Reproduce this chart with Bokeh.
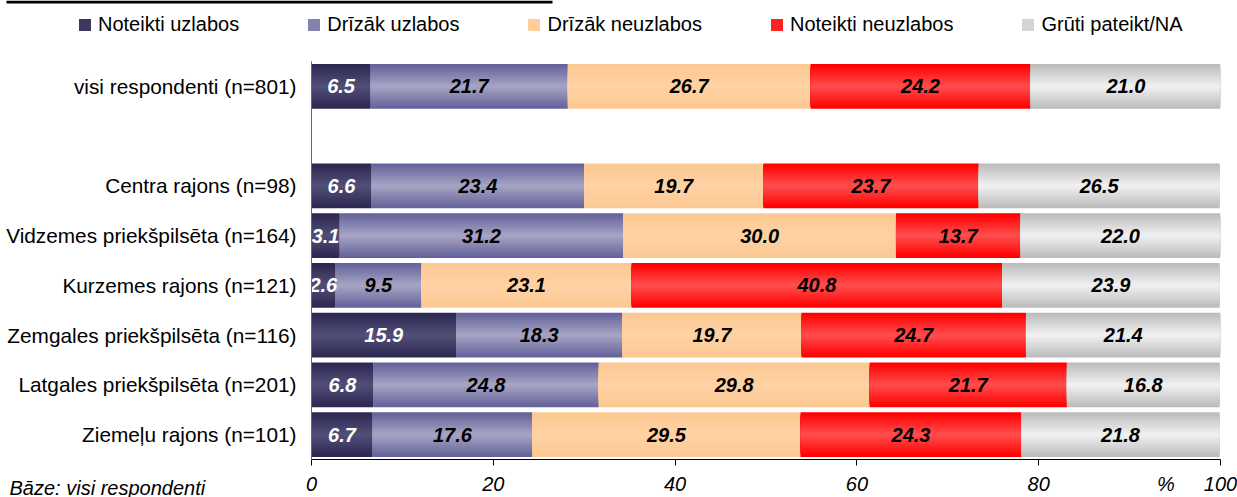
import numpy as np
from bokeh.plotting import figure
from bokeh.models import (FactorRange, Range1d, FixedTicker, Legend, LegendItem,
                          Label, BoxAnnotation, ColumnDataSource, GridBox, Column)
from bokeh.core.properties import value
from bokeh.embed import file_html
from bokeh.resources import INLINE

# ---------------- data ----------------
categories = [
    "visi respondenti (n=801)",
    "Centra rajons (n=98)",
    "Vidzemes priekšpilsēta (n=164)",
    "Kurzemes rajons (n=121)",
    "Zemgales priekšpilsēta (n=116)",
    "Latgales priekšpilsēta (n=201)",
    "Ziemeļu rajons (n=101)",
]
series_names = ["Noteikti uzlabos", "Drīzāk uzlabos", "Drīzāk neuzlabos",
                "Noteikti neuzlabos", "Grūti pateikt/NA"]
noteikti_uzlabos = [6.5, 6.6, 3.1, 2.6, 15.9, 6.8, 6.7]
drizak_uzlabos = [21.7, 23.4, 31.2, 9.5, 18.3, 24.8, 17.6]
drizak_neuzlabos = [26.7, 19.7, 30.0, 23.1, 19.7, 29.8, 29.5]
noteikti_neuzlabos = [24.2, 23.7, 13.7, 40.8, 24.7, 21.7, 24.3]
gruti_pateikt = [21.0, 26.5, 22.0, 23.9, 21.4, 16.8, 21.8]
x_ticks = [0, 20, 40, 60, 80, 100]
unit_label = "%"
unit_pos = 94.0
base_note = "Bāze: visi respondenti"
spacer = " "

series_values = [noteikti_uzlabos, drizak_uzlabos, drizak_neuzlabos,
                 noteikti_neuzlabos, gruti_pateikt]

# ---------------- styles ----------------
W, H = 1237, 497
FONT = "Liberation Sans"
edge_colors = ["#2c2850", "#64629a", "#fcc893", "#ff0000", "#bcbcbc"]
center_colors = ["#504d77", "#a4a3c3", "#ffd2a4", "#ff4b4b", "#efefef"]
legend_colors = ["#3c3862", "#8482ae", "#ffcd9c", "#ff2222", "#d4d4d4"]
label_colors = ["white", "black", "black", "black", "black"]
N_LEVELS = 12
BAR_H = 0.9

def hex2rgb(h):
    h = h.lstrip("#")
    return np.array([int(h[i:i + 2], 16) for i in (0, 2, 4)], dtype=float)

def lerp(c1, c2, t):
    a, b = hex2rgb(c1), hex2rgb(c2)
    c = np.round(a + (b - a) * t).astype(int)
    return "#%02x%02x%02x" % tuple(c)

factors = list(reversed(categories[1:])) + [spacer, categories[0]]

# ---------------- main chart ----------------
fig = figure(width=W, height=H,
             y_range=FactorRange(factors=factors, range_padding=0),
             x_range=Range1d(0, 100),
             output_backend="svg", toolbar_location=None,
             min_border_left=311, min_border_right=17,
             min_border_top=61, min_border_bottom=36)
fig.xgrid.visible = False
fig.ygrid.visible = False
fig.outline_line_color = None

left_acc = np.zeros(len(categories))
label_x, label_y, label_t, label_c = [], [], [], []
for s, (name, vals) in enumerate(zip(series_names, series_values)):
    vals = np.array(vals, dtype=float)
    lefts = left_acc.copy()
    rights = lefts + vals
    src = ColumnDataSource(dict(y=categories, left=lefts, right=rights))
    for k in range(N_LEVELS):
        t = k / (N_LEVELS - 1)
        col = lerp(edge_colors[s], center_colors[s], t)
        h = BAR_H * (1 - k / N_LEVELS)
        fig.hbar(y="y", left="left", right="right", height=h, source=src,
                 fill_color=col, line_color=None)
    for i, c in enumerate(categories):
        label_x.append(lefts[i] + vals[i] / 2)
        label_y.append(c)
        label_t.append("%.1f" % vals[i])
        label_c.append(label_colors[s])
    left_acc = rights

lab_src = ColumnDataSource(dict(x=label_x, y=label_y, text=label_t, color=label_c))
fig.text(x="x", y="y", text="text", source=lab_src, text_color="color",
         text_font=value(FONT), text_font_style="bold italic",
         text_font_size="20px", text_align="center", text_baseline="middle")

# x axis: visible tick marks are the "minor" ticks, so the unit label can
# sit on a major tick without a mark
fig.xaxis.ticker = FixedTicker(ticks=x_ticks + [unit_pos], minor_ticks=x_ticks)
fig.xaxis.major_label_overrides = {unit_pos: unit_label}
fig.xaxis.major_tick_line_color = None
fig.xaxis.major_tick_out = 6
fig.xaxis.major_tick_in = 0
fig.xaxis.minor_tick_line_color = "black"
fig.xaxis.minor_tick_out = 6
fig.xaxis.minor_tick_in = 0
fig.xaxis.major_label_standoff = 7
fig.xaxis.axis_line_color = "black"
fig.xaxis.major_label_text_font = FONT
fig.xaxis.major_label_text_font_style = "italic"
fig.xaxis.major_label_text_font_size = "20px"
fig.xaxis.major_label_text_color = "black"

fig.yaxis.major_tick_line_color = None
fig.yaxis.minor_tick_line_color = None
fig.yaxis.axis_line_color = "#666666"
fig.yaxis.major_label_standoff = 9
fig.yaxis.major_label_text_font = FONT
fig.yaxis.major_label_text_font_size = "20.8px"
fig.yaxis.major_label_text_color = "black"

# ---------------- transparent overlay: legend, note, top rule ----------------
ov = figure(width=W, height=H, x_range=Range1d(0, W), y_range=Range1d(H, 0),
            output_backend="svg", toolbar_location=None,
            x_axis_location=None, y_axis_location=None,
            min_border=0, border_fill_color=None, background_fill_color=None,
            outline_line_color=None)
ov.xgrid.visible = False
ov.ygrid.visible = False

legend_items = []
for s, name in enumerate(series_names):
    # legend proxy: one undefined (NaN) row, so nothing is drawn in the plot
    proxy = ColumnDataSource(dict(y=[np.nan], left=[np.nan], right=[np.nan]))
    r = ov.hbar(y="y", left="left", right="right", height=1, source=proxy,
                fill_color=legend_colors[s], line_color=None)
    legend_items.append(LegendItem(label=name, renderers=[r]))

legend = Legend(items=legend_items, orientation="horizontal",
                location=(77, H - 36), padding=0, margin=0, spacing=67,
                glyph_width=15, glyph_height=15, label_standoff=6,
                label_text_font=FONT, label_text_font_size="20px",
                label_text_color="black",
                border_line_color=None, background_fill_alpha=0)
ov.add_layout(legend, "center")

ov.add_layout(Label(x=9, y=487, text=base_note, text_font=FONT,
                    text_font_style="italic", text_font_size="20px",
                    text_color="black",
                    text_baseline="middle", text_align="left"))
ov.add_layout(BoxAnnotation(left=6, right=552, top=0, bottom=3,
                            fill_color="black", fill_alpha=1, line_color=None))

p = GridBox(children=[(fig, 0, 0), (Column(children=[ov]), 0, 0)])

open("out.html", "w").write(file_html(p, INLINE))
